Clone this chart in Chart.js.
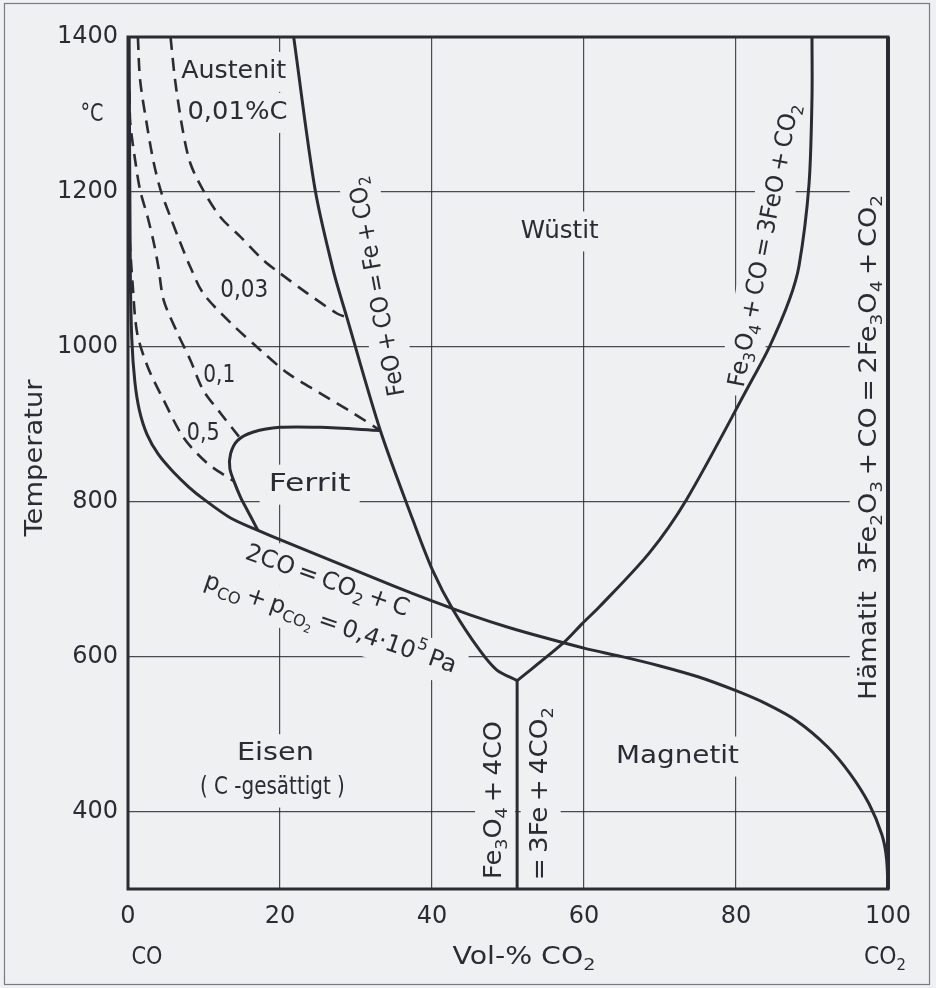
<!DOCTYPE html>
<html>
<head>
<meta charset="utf-8">
<script src="https://cdn.jsdelivr.net/npm/chart.js@4.4.1/dist/chart.umd.min.js"></script>
<style>
html, body { margin: 0; padding: 0; background: #eff0f2; }
canvas { display: block; }
</style>
</head>
<body>
<canvas id="diagramm" width="936" height="988"></canvas>
<script>
// Baur-Glaessner-Diagramm: Vol-% CO2 (x) gegen Temperatur in °C (y)
const xTicks = [0, 20, 40, 60, 80, 100]
const yTicks = [400, 600, 800, 1000, 1200, 1400]

// 2CO = CO2 + C (Boudouard)
const boudouard = [[0.15, 1400], [0.3, 1100], [0.5, 1010], [0.9, 955], [1.5, 918], [2.5, 887], [4, 861], [6, 838], [8, 819],
    [10, 803], [13.5, 779], [17.1, 763], [20, 751], [25, 731], [30, 711], [35, 691], [40, 672], [45, 654], [50, 638],
    [55, 624], [60, 611], [65, 600], [70, 588], [75, 574], [80, 556], [84, 539], [88, 517], [92, 484], [95, 449],
    [97.5, 410], [99.2, 370], [99.8, 340], [100, 300]]
// FeO + CO = Fe + CO2
const feoFe = [[21.8, 1400], [24.6, 1204], [27.0, 1099], [28.8, 1038], [33.2, 892], [37.5, 776], [40.1, 711], [42.8, 660],
    [46.3, 608], [48.5, 583], [51.2, 569]]
// Fe3O4 + CO = 3FeO + CO2
const magnetitWuestit = [[51.2, 569], [57.2, 617], [59.8, 643], [62, 664], [68.6, 734], [73.5, 803], [81.7, 950],
    [84.4, 1000], [87.0, 1060], [88.3, 1105], [89.6, 1209], [90, 1322], [90, 1400]]
// Fe3O4 + 4CO = 3Fe + 4CO2
const magnetitEisen = [[51.2, 569], [51.2, 300]]
// Grenze des Ferritgebiets
const ferrit = [[33.2, 892], [25.3, 896], [20, 896], [16.5, 890], [14.4, 879], [13.5, 862], [13.4, 843], [14.0, 825],
    [14.8, 806], [15.7, 789], [16.4, 776], [17.1, 763]]
// Kohlenstoffgehalt im Austenit (gestrichelt)
const c001 = [[5.6, 1400], [6.2, 1344], [7.2, 1280], [8.2, 1237], [9.9, 1202], [12.2, 1167], [14.8, 1142], [17.8, 1112],
    [20, 1095], [23.6, 1069], [27.5, 1043], [28.8, 1038]]
const c003 = [[1.3, 1400], [1.6, 1344], [2.6, 1280], [3.4, 1237], [4.3, 1202], [5.6, 1167], [6.9, 1134], [8.2, 1103],
    [9.9, 1069], [13.5, 1031], [17.4, 996], [21, 966], [25.3, 940], [29.7, 914], [33.2, 892]]
const c01 = [[0.2, 1330], [0.3, 1289], [1, 1237], [1.6, 1202], [2.6, 1167], [3.4, 1134], [4, 1103], [4.7, 1060],
    [6.5, 1018], [8.2, 983], [9.9, 944], [12.2, 914], [14.6, 884]]
const c05 = [[0.2, 1140], [0.6, 1082], [1.2, 1018], [2.6, 974], [4.7, 931], [7.3, 883], [10.4, 850], [14.0, 826]]

const tinte = '#2b2b33'
const papier = '#eff0f2'
const schrift = "'DejaVu Sans', sans-serif"
const s = '\u2009' // schmales Leerzeichen

// Beschriftungen im Diagramm (Lage in Datenkoordinaten)
const beschriftungen = [
    { t: 'Austenit', x: 13.9, y: 1355, w: 105 },
    { t: '0,01%C', x: 14.4, y: 1302, w: 100 },
    { t: '0,03', x: 15.3, y: 1073, w: 48 },
    { t: '0,1', x: 12.0, y: 962, w: 32 },
    { t: '0,5', x: 9.9, y: 888, w: 33 },
    { t: 'Ferrit', x: 23.9, y: 822, w: 82 },
    { t: 'Wüstit', x: 56.8, y: 1149, w: 78 },
    { t: 'Magnetit', x: 72.3, y: 471, w: 123 },
    { t: 'Eisen', x: 19.4, y: 474, w: 77 },
    { t: '( C -gesättigt )', x: 19.0, y: 431, w: 145 },
    { t: `FeO${s}+${s}CO${s}=${s}Fe${s}+${s}CO_{2}`, x: 32.9, y: 1078, r: -100.5, w: 222 },
    { t: `Fe_{3}O_{4}${s}+${s}CO${s}=${s}3FeO${s}+${s}CO_{2}`, x: 83.8, y: 1131, r: -79, w: 288 },
    { t: `Hämatit  3Fe_{2}O_{3}${s}+${s}CO${s}=${s}2Fe_{3}O_{4}${s}+${s}CO_{2}`, x: 97.6, y: 870, r: -90, w: 505 },
    { t: `Fe_{3}O_{4}${s}+${s}4CO`, x: 48.3, y: 415, r: -90, w: 158 },
    { t: `=${s}3Fe${s}+${s}4CO_{2}`, x: 54.3, y: 423, r: -90, w: 173 },
    { t: `2CO${s}=${s}CO_{2}${s}+${s}C`, x: 26.2, y: 697, r: 19.6, w: 172 },
    { t: `p_{CO}${s}+${s}p_{CO_{2}}${s}=${s}0,4·10^{5}${s}Pa`, x: 26.6, y: 642, r: 19, w: 265 }
]

// Achsenbeschriftungen (Pixel)
const achsentexte = [
    { t: 'Temperatur', px: 36, py: 458, r: -90, w: 157 },
    { t: '°C', px: 92, py: 115, w: 23 },
    { t: 'CO', px: 147, py: 958, w: 31 },
    { t: 'Vol-% CO_{2}', px: 524, py: 958, w: 143 },
    { t: 'CO_{2}', px: 885, py: 958, w: 42 }
]

function zerlege(text) {
    const teile = []
    const stapel = []
    let akt = null
    for (let i = 0; i < text.length; i++) {
        const c = text[i]
        if ((c === '_' || c === '^') && text[i + 1] === '{') { stapel.push(c); i++; akt = null; continue }
        if (c === '}') { stapel.pop(); akt = null; continue }
        if (!akt) { akt = { t: '', lv: stapel.slice() }; teile.push(akt) }
        akt.t += c
    }
    return teile
}

// schreibt Text mit Tief-/Hochstellung; nurFlaeche = nur Hintergrund freistellen
function schreibe(ctx, text, x, y, groesse, winkel, breite, nurFlaeche) {
    const teile = zerlege(text)
    let gesamt = 0
    teile.forEach(tl => {
        let g = groesse, dy = 0
        tl.lv.forEach(l => { dy += l === '_' ? g * 0.32 : -g * 0.42; g *= 0.68 })
        tl.g = g
        tl.dy = dy
        ctx.font = `${g}px ${schrift}`
        tl.w = ctx.measureText(tl.t).width
        gesamt += tl.w
    })
    ctx.save()
    ctx.translate(x, y)
    ctx.rotate((winkel || 0) * Math.PI / 180)
    if (nurFlaeche) {
        const b = (breite || gesamt) / 2 + 9
        const h = groesse / 2 + 8
        ctx.fillStyle = papier
        ctx.fillRect(-b, -h, 2 * b, 2 * h)
        ctx.restore()
        return
    }
    if (breite) ctx.scale(breite / gesamt, 1)
    ctx.fillStyle = tinte
    ctx.textBaseline = 'middle'
    ctx.textAlign = 'left'
    let cx = -gesamt / 2
    teile.forEach(tl => {
        ctx.font = `${tl.g}px ${schrift}`
        ctx.fillText(tl.t, cx, tl.dy)
        cx += tl.w
    })
    ctx.restore()
}

const rahmen = {
    id: 'rahmen',
    beforeDatasetsDraw(chart) {
        // Gitterlinien hinter den Beschriftungen unterbrechen
        const { ctx, scales, chartArea: a } = chart
        ctx.save()
        ctx.beginPath()
        ctx.rect(a.left, a.top, a.right - a.left, a.bottom - a.top)
        ctx.clip()
        beschriftungen.forEach(b => {
            schreibe(ctx, b.t, scales.x.getPixelForValue(b.x), scales.y.getPixelForValue(b.y), 24, b.r, b.w, true)
        })
        ctx.restore()
    },
    afterDatasetsDraw(chart) {
        const { ctx, chartArea: a } = chart
        ctx.save()
        ctx.strokeStyle = tinte
        ctx.lineWidth = 3
        ctx.strokeRect(a.left, a.top, a.right - a.left, a.bottom - a.top)
        ctx.lineWidth = 4
        ctx.beginPath()
        ctx.moveTo(a.right, a.top)
        ctx.lineTo(a.right, a.bottom)
        ctx.stroke()
        ctx.restore()
    }
}

const texte = {
    id: 'texte',
    afterDraw(chart) {
        const { ctx, scales } = chart
        beschriftungen.forEach(b => {
            schreibe(ctx, b.t, scales.x.getPixelForValue(b.x), scales.y.getPixelForValue(b.y), 24, b.r, b.w)
        })
        achsentexte.forEach(b => schreibe(ctx, b.t, b.px, b.py, 24, b.r, b.w))
        ctx.save()
        ctx.strokeStyle = '#7a7a80'
        ctx.lineWidth = 1.2
        ctx.strokeRect(4.5, 3.5, 925, 981)
        ctx.restore()
    }
}

function linie(label, punkte, gestrichelt) {
    return {
        label: label,
        data: punkte.map(p => ({ x: p[0], y: p[1] })),
        showLine: true,
        borderColor: tinte,
        borderWidth: gestrichelt ? 2.6 : 3,
        borderDash: gestrichelt ? [13, 8] : [],
        pointRadius: 0,
        tension: 0.3,
        fill: false
    }
}

new Chart(document.getElementById('diagramm'), {
    type: 'scatter',
    data: {
        datasets: [
            linie('2CO = CO2 + C', boudouard),
            linie('FeO + CO = Fe + CO2', feoFe),
            linie('Fe3O4 + CO = 3FeO + CO2', magnetitWuestit),
            linie('Fe3O4 + 4CO = 3Fe + 4CO2', magnetitEisen),
            linie('Ferrit', ferrit),
            linie('0,01 %C', c001, true),
            linie('0,03 %C', c003, true),
            linie('0,1 %C', c01, true),
            linie('0,5 %C', c05, true)
        ]
    },
    options: {
        responsive: false,
        animation: false,
        devicePixelRatio: 1,
        layout: {
            padding: { left: 0, top: 37, right: 48, bottom: 0 }
        },
        plugins: {
            legend: { display: false },
            tooltip: { enabled: false }
        },
        scales: {
            x: {
                type: 'linear',
                min: 0,
                max: 100,
                afterBuildTicks: sc => { sc.ticks = xTicks.map(v => ({ value: v })) },
                afterFit: sc => { sc.height = 99 },
                ticks: {
                    padding: 13,
                    color: tinte,
                    font: { family: schrift, size: 24 },
                    maxRotation: 0,
                    callback: v => String(v)
                },
                grid: { color: 'rgba(45,45,55,0.85)', lineWidth: 1.2, drawTicks: false },
                border: { display: false }
            },
            y: {
                type: 'linear',
                min: 300,
                max: 1400,
                afterBuildTicks: sc => { sc.ticks = yTicks.map(v => ({ value: v })) },
                afterFit: sc => { sc.width = 128 },
                ticks: {
                    padding: 10,
                    color: tinte,
                    font: { family: schrift, size: 24 },
                    callback: v => String(v)
                },
                grid: { color: 'rgba(45,45,55,0.85)', lineWidth: 1.2, drawTicks: false },
                border: { display: false }
            }
        }
    },
    plugins: [rahmen, texte]
})
</script>
</body>
</html>
